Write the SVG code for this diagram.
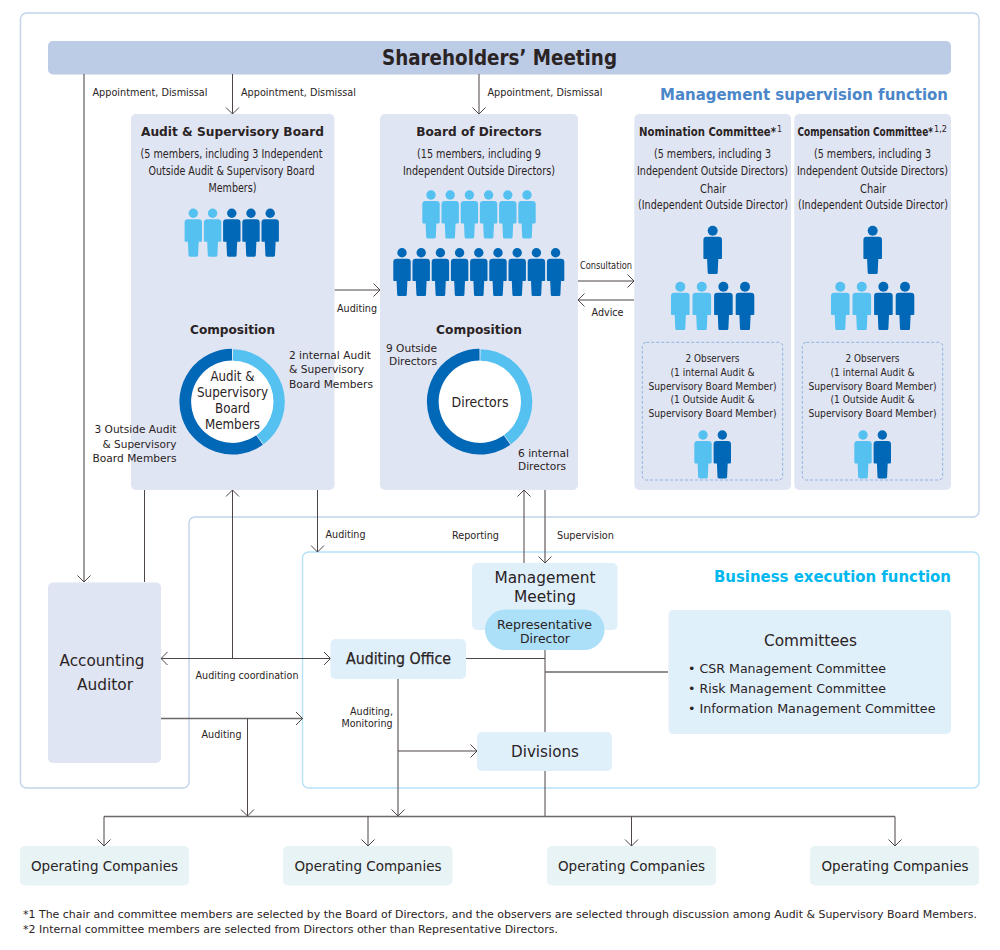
<svg xmlns="http://www.w3.org/2000/svg" xmlns:xlink="http://www.w3.org/1999/xlink" width="1000" height="950" viewBox="0 0 1000 950">
<style>
text{font-family:"DejaVu Sans","Liberation Sans",sans-serif;fill:#2a2324;text-anchor:middle}
.l{text-anchor:start}.r{text-anchor:end}
.b{font-weight:bold}
.s8{font-size:8px}.s10{font-size:10px}.s11{font-size:11px}.s12{font-size:12px}.s13{font-size:13px}.s14{font-size:14px}.s15{font-size:15px}.s16{font-size:16px}
.board{fill:#e0e5f3}.exec{fill:#e0f0fb}.op{fill:#e7f3f4}
.c{fill:none;stroke:#4d4546;stroke-width:1}
.g{stroke:#6e6869;stroke-width:1.3}
.ar{marker-end:url(#a)}
.lt{fill:#55c1f1}.dk{fill:#0068b7}
.obs{fill:none;stroke:#8eb2df;stroke-width:1;stroke-dasharray:3 2}
</style>
<defs>
<marker id="a" markerUnits="userSpaceOnUse" markerWidth="16" markerHeight="16" refX="8" refY="8" orient="auto-start-reverse" overflow="visible"><path d="M1.5 1.5 L8 8 L1.5 14.5" fill="none" stroke="#4d4546" stroke-width="1"/></marker>
<g id="p"><circle cx="0" cy="0" r="4.7"/><path d="M-5.4 6h10.8q3.3 0 3.3 3.3V27.6q0 .8-.8 .8H5.4L4.8 42q0 1.4-1.4 1.4h-6.8q-1.4 0-1.4-1.4L-5.4 28.4H-7.9q-.8 0-.8-.8V9.3q0-3.3 3.3-3.3z"/></g>
<g id="pw"><circle cx="0" cy="0" r="5"/><path d="M-6 6h12q3.3 0 3.3 3.3V27.6q0 .8-.8 .8H5.6L5 42q0 1.4-1.4 1.4h-7.2q-1.4 0-1.4-1.4L-5.6 28.4H-8.5q-.8 0-.8-.8V9.3q0-3.3 3.3-3.3z"/></g>
</defs>
<rect width="1000" height="950" fill="#fff"/>
<g id="frames" fill="none" stroke-width="1.4">
<path d="M26.5 13H973a6 6 0 0 1 6 6V511a6 6 0 0 1-6 6H195a6 6 0 0 0-6 6V782a6 6 0 0 1-6 6H26.5a6 6 0 0 1-6-6V19a6 6 0 0 1 6-6z" stroke="#c3d2ec"/>
<rect x="302.5" y="552" width="676.5" height="236" rx="6" stroke="#b5e2f8"/>
</g>
<g id="shareholders"><rect x="48" y="41" width="903" height="33.500" rx="5" fill="#bccbe6"/><text x="499.500" y="65" class="b" font-size="21" textLength="235" lengthAdjust="spacingAndGlyphs">Shareholders’ Meeting</text></g>
<text id="title-supervision" x="804" y="100" class="b s16" style="fill:#4a86c8" textLength="288" lengthAdjust="spacingAndGlyphs">Management supervision function</text>
<g id="connectors">
<path class="c g ar" d="M84 74V582"/>
<path class="c ar" d="M232.500 74V114"/>
<path class="c ar" d="M479 74V114"/>
<path class="c ar" d="M334.500 290H380"/>
<path class="c ar" d="M578 281H634"/>
<path class="c ar" d="M634 300H578"/>
<path class="c" d="M144.500 490V582"/>
<path class="c ar" d="M232.500 658.500V490"/>
<path class="c ar" d="M161 658.500H330.500" style="marker-start:url(#a)"/>
<path class="c ar" d="M317.500 490V552"/>
<path class="c ar" d="M524 563V490"/>
<path class="c g ar" d="M545 490V563"/>
<path class="c g ar" d="M161 718.500H302.500"/>
<path class="c ar" d="M247.500 718.500V816"/>
<path class="c g ar" d="M398 679V816"/>
<path class="c ar" d="M398 751H477"/>
<path class="c" d="M466 658.500H545"/>
<path class="c" d="M545 650V732"/>
<path class="c g" d="M545 672H668"/>
<path class="c" d="M545 771V816.500"/>
<path class="c g" d="M104 816.500H895"/>
<path class="c ar" d="M104 816.500V846"/>
<path class="c ar" d="M368 816.500V846"/>
<path class="c ar" d="M631.500 816.500V846"/>
<path class="c ar" d="M895 816.500V846"/>
</g>
<g id="labels" class="s10">
<text x="150" y="96" textLength="115" lengthAdjust="spacingAndGlyphs">Appointment, Dismissal</text>
<text x="298.500" y="96" textLength="115" lengthAdjust="spacingAndGlyphs">Appointment, Dismissal</text>
<text x="545" y="96" textLength="115" lengthAdjust="spacingAndGlyphs">Appointment, Dismissal</text>
<text x="606" y="269" textLength="52" lengthAdjust="spacingAndGlyphs">Consultation</text>
<text x="607.500" y="316" textLength="32" lengthAdjust="spacingAndGlyphs">Advice</text>
<text x="357" y="312" textLength="40" lengthAdjust="spacingAndGlyphs">Auditing</text>
<text x="345.500" y="538" textLength="40" lengthAdjust="spacingAndGlyphs">Auditing</text>
<text x="475.500" y="539" textLength="47" lengthAdjust="spacingAndGlyphs">Reporting</text>
<text x="585.500" y="539" textLength="57" lengthAdjust="spacingAndGlyphs">Supervision</text>
<text x="247" y="679" textLength="103" lengthAdjust="spacingAndGlyphs">Auditing coordination</text>
<text x="221.500" y="738" textLength="40" lengthAdjust="spacingAndGlyphs">Auditing</text>
<text x="393" y="715" class="r" textLength="43" lengthAdjust="spacingAndGlyphs">Auditing,</text>
<text x="392.500" y="727" class="r" textLength="51" lengthAdjust="spacingAndGlyphs">Monitoring</text>
</g>
<g id="audit-board">
<rect class="board" x="131" y="114" width="203.500" height="376" rx="5"/>
<text x="232.500" y="136" class="b s13" textLength="183" lengthAdjust="spacingAndGlyphs">Audit &amp; Supervisory Board</text>
<g class="s12">
<text x="231.500" y="158" textLength="182" lengthAdjust="spacingAndGlyphs">(5 members, including 3 Independent</text>
<text x="231.500" y="175" textLength="166" lengthAdjust="spacingAndGlyphs">Outside Audit &amp; Supervisory Board</text>
<text x="232.500" y="192" textLength="48" lengthAdjust="spacingAndGlyphs">Members)</text>
</g>
<use xlink:href="#p" href="#p" class="lt" x="193.300" y="213.300"/><use href="#p" class="lt" x="212.600" y="213.300"/><use href="#p" class="dk" x="231.800" y="213.300"/><use href="#p" class="dk" x="251" y="213.300"/><use href="#p" class="dk" x="270.200" y="213.300"/>
<text x="232.500" y="334" class="b s13" textLength="85" lengthAdjust="spacingAndGlyphs">Composition</text>
<path d="M233 355A47 47 0 0 1 260.100 439.600" fill="none" stroke="#55c1f1" stroke-width="11.700"/>
<path d="M259.500 440A47 47 0 1 1 232 354.700" fill="none" stroke="#0068b7" stroke-width="11.700"/>
<circle cx="232.500" cy="401.700" r="41" fill="#fff"/>
<g class="s14">
<text x="232.500" y="381" textLength="44" lengthAdjust="spacingAndGlyphs">Audit &amp;</text>
<text x="232.500" y="397" textLength="71" lengthAdjust="spacingAndGlyphs">Supervisory</text>
<text x="232.500" y="413" textLength="35" lengthAdjust="spacingAndGlyphs">Board</text>
<text x="232.500" y="429" textLength="55" lengthAdjust="spacingAndGlyphs">Members</text>
</g>
<g class="s11">
<text x="289" y="359" class="l" textLength="82" lengthAdjust="spacingAndGlyphs">2 internal Audit</text>
<text x="289" y="373" class="l" textLength="75" lengthAdjust="spacingAndGlyphs">&amp; Supervisory</text>
<text x="289" y="388" class="l" textLength="84" lengthAdjust="spacingAndGlyphs">Board Members</text>
<text x="176.500" y="433" class="r" textLength="82" lengthAdjust="spacingAndGlyphs">3 Outside Audit</text>
<text x="176.500" y="448" class="r" textLength="74" lengthAdjust="spacingAndGlyphs">&amp; Supervisory</text>
<text x="176.500" y="462" class="r" textLength="84" lengthAdjust="spacingAndGlyphs">Board Members</text>
</g>
</g>
<g id="board-of-directors">
<rect class="board" x="380" y="114" width="198" height="376" rx="5"/>
<text x="479" y="136" class="b s13" textLength="125.500" lengthAdjust="spacingAndGlyphs">Board of Directors</text>
<g class="s12">
<text x="479" y="158" textLength="124" lengthAdjust="spacingAndGlyphs">(15 members, including 9</text>
<text x="479" y="175" textLength="152" lengthAdjust="spacingAndGlyphs">Independent Outside Directors)</text>
</g>
<use href="#p" class="lt" x="431" y="195"/><use href="#p" class="lt" x="450.200" y="195"/><use href="#p" class="lt" x="469.400" y="195"/><use href="#p" class="lt" x="488.600" y="195"/><use href="#p" class="lt" x="507.800" y="195"/><use href="#p" class="lt" x="527" y="195"/>
<use href="#p" class="dk" x="402" y="252.700"/><use href="#p" class="dk" x="421.200" y="252.700"/><use href="#p" class="dk" x="440.400" y="252.700"/><use href="#p" class="dk" x="459.600" y="252.700"/><use href="#p" class="dk" x="478.800" y="252.700"/><use href="#p" class="dk" x="498" y="252.700"/><use href="#p" class="dk" x="517.200" y="252.700"/><use href="#p" class="dk" x="536.400" y="252.700"/><use href="#p" class="dk" x="555.600" y="252.700"/>
<text x="479" y="334" class="b s13" textLength="86" lengthAdjust="spacingAndGlyphs">Composition</text>
<path d="M480.500 355A47 47 0 0 1 507.600 439.600" fill="none" stroke="#55c1f1" stroke-width="11.700"/>
<path d="M507 440A47 47 0 1 1 479.500 354.700" fill="none" stroke="#0068b7" stroke-width="11.700"/>
<circle cx="480" cy="401.700" r="41" fill="#fff"/>
<text x="480" y="407" class="s14" textLength="57" lengthAdjust="spacingAndGlyphs">Directors</text>
<g class="s11">
<text x="437" y="352" class="r" textLength="51" lengthAdjust="spacingAndGlyphs">9 Outside</text>
<text x="437" y="365" class="r" textLength="48" lengthAdjust="spacingAndGlyphs">Directors</text>
<text x="518" y="457" class="l" textLength="51" lengthAdjust="spacingAndGlyphs">6 internal</text>
<text x="518" y="470" class="l" textLength="48" lengthAdjust="spacingAndGlyphs">Directors</text>
</g>
</g>
<g id="nomination-committee">
<rect class="board" x="634.300" y="114" width="156.700" height="376" rx="5"/>
<text x="639" y="136" class="b s13 l" textLength="137" lengthAdjust="spacingAndGlyphs">Nomination Committee*</text>
<text x="777" y="132" class="s8 l" textLength="5" lengthAdjust="spacingAndGlyphs">1</text>
<g class="s12">
<text x="712.500" y="158" textLength="117" lengthAdjust="spacingAndGlyphs">(5 members, including 3</text>
<text x="712.500" y="175" textLength="151" lengthAdjust="spacingAndGlyphs">Independent Outside Directors)</text>
<text x="713" y="193" textLength="26" lengthAdjust="spacingAndGlyphs">Chair</text>
<text x="713" y="209" textLength="150" lengthAdjust="spacingAndGlyphs">(Independent Outside Director)</text>
</g>
<use href="#pw" class="dk" x="712.700" y="230.700"/>
<use href="#pw" class="lt" x="680.300" y="286.700"/><use href="#pw" class="lt" x="701.800" y="286.700"/><use href="#pw" class="dk" x="723.400" y="286.700"/><use href="#pw" class="dk" x="745" y="286.700"/>
<rect class="obs" x="642.300" y="342.300" width="140.400" height="137.700" rx="4"/>
<g class="s11">
<text x="712.500" y="362" textLength="54" lengthAdjust="spacingAndGlyphs">2 Observers</text>
<text x="712.500" y="376" textLength="84" lengthAdjust="spacingAndGlyphs">(1 internal Audit &amp;</text>
<text x="712.500" y="389.500" textLength="128" lengthAdjust="spacingAndGlyphs">Supervisory Board Member)</text>
<text x="712.500" y="403" textLength="84" lengthAdjust="spacingAndGlyphs">(1 Outside Audit &amp;</text>
<text x="712.500" y="417" textLength="128" lengthAdjust="spacingAndGlyphs">Supervisory Board Member)</text>
</g>
<use href="#p" class="lt" x="703" y="435"/><use href="#p" class="dk" x="722.300" y="435"/>
</g>
<g id="compensation-committee">
<rect class="board" x="794.300" y="114" width="156.700" height="376" rx="5"/>
<text x="797.500" y="136" class="b s13 l" textLength="135.500" lengthAdjust="spacingAndGlyphs">Compensation Committee*</text>
<text x="934" y="132" class="s8 l" textLength="13" lengthAdjust="spacingAndGlyphs">1,2</text>
<g class="s12">
<text x="872.500" y="158" textLength="117" lengthAdjust="spacingAndGlyphs">(5 members, including 3</text>
<text x="872.500" y="175" textLength="151" lengthAdjust="spacingAndGlyphs">Independent Outside Directors)</text>
<text x="873" y="193" textLength="26" lengthAdjust="spacingAndGlyphs">Chair</text>
<text x="873" y="209" textLength="150" lengthAdjust="spacingAndGlyphs">(Independent Outside Director)</text>
</g>
<use href="#pw" class="dk" x="872.700" y="230.700"/>
<use href="#pw" class="lt" x="840.300" y="286.700"/><use href="#pw" class="lt" x="861.800" y="286.700"/><use href="#pw" class="dk" x="883.400" y="286.700"/><use href="#pw" class="dk" x="905" y="286.700"/>
<rect class="obs" x="802.300" y="342.300" width="140.400" height="137.700" rx="4"/>
<g class="s11">
<text x="872.500" y="362" textLength="54" lengthAdjust="spacingAndGlyphs">2 Observers</text>
<text x="872.500" y="376" textLength="84" lengthAdjust="spacingAndGlyphs">(1 internal Audit &amp;</text>
<text x="872.500" y="389.500" textLength="128" lengthAdjust="spacingAndGlyphs">Supervisory Board Member)</text>
<text x="872.500" y="403" textLength="84" lengthAdjust="spacingAndGlyphs">(1 Outside Audit &amp;</text>
<text x="872.500" y="417" textLength="128" lengthAdjust="spacingAndGlyphs">Supervisory Board Member)</text>
</g>
<use href="#p" class="lt" x="863" y="435"/><use href="#p" class="dk" x="882.300" y="435"/>
</g>
<text id="title-execution" x="832.500" y="582" class="b s16" style="fill:#00b8ee" textLength="237" lengthAdjust="spacingAndGlyphs">Business execution function</text>
<g id="accounting-auditor"><rect class="board" x="48" y="582.500" width="113" height="180.500" rx="5"/>
<text x="102" y="666" class="s16" textLength="85" lengthAdjust="spacingAndGlyphs">Accounting</text><text x="105" y="690" class="s16" textLength="56" lengthAdjust="spacingAndGlyphs">Auditor</text></g>
<g id="management-meeting"><rect class="exec" x="472" y="563" width="145.500" height="67" rx="5"/>
<text x="545" y="583" class="s15" textLength="101" lengthAdjust="spacingAndGlyphs">Management</text><text x="545" y="602" class="s15" textLength="62" lengthAdjust="spacingAndGlyphs">Meeting</text></g>
<g id="representative-director"><rect x="485" y="609.500" width="119.500" height="40.500" rx="20.250" fill="#abe0f8"/>
<text x="544.500" y="629" class="s13" textLength="95" lengthAdjust="spacingAndGlyphs">Representative</text><text x="545" y="643" class="s13" textLength="50" lengthAdjust="spacingAndGlyphs">Director</text></g>
<g id="auditing-office"><rect class="exec" x="330.500" y="639" width="135.500" height="40" rx="5"/><text x="398.500" y="663.500" class="s15" stroke="#2a2324" stroke-width=".25" textLength="105" lengthAdjust="spacingAndGlyphs">Auditing Office</text></g>
<g id="divisions"><rect class="exec" x="477" y="732" width="135" height="39" rx="5"/><text x="545" y="757" class="s15" textLength="68" lengthAdjust="spacingAndGlyphs">Divisions</text></g>
<g id="committees"><rect class="exec" x="668.500" y="610" width="282.500" height="124" rx="5"/>
<text x="810.500" y="646" class="s15" textLength="93" lengthAdjust="spacingAndGlyphs">Committees</text>
<g class="s13">
<text x="688" y="673" class="l" textLength="198" lengthAdjust="spacingAndGlyphs">• CSR Management Committee</text>
<text x="688" y="693" class="l" textLength="198" lengthAdjust="spacingAndGlyphs">• Risk Management Committee</text>
<text x="688" y="713" class="l" textLength="247.500" lengthAdjust="spacingAndGlyphs">• Information Management Committee</text>
</g></g>
<g id="operating-1"><rect class="op" x="20" y="846" width="169" height="39.500" rx="5"/><text x="104.500" y="871" class="s14" textLength="147" lengthAdjust="spacingAndGlyphs">Operating Companies</text></g>
<g id="operating-2"><rect class="op" x="283" y="846" width="169.500" height="39.500" rx="5"/><text x="368" y="871" class="s14" textLength="147" lengthAdjust="spacingAndGlyphs">Operating Companies</text></g>
<g id="operating-3"><rect class="op" x="547" y="846" width="169" height="39.500" rx="5"/><text x="631.500" y="871" class="s14" textLength="147" lengthAdjust="spacingAndGlyphs">Operating Companies</text></g>
<g id="operating-4"><rect class="op" x="810" y="846" width="169" height="39.500" rx="5"/><text x="895" y="871" class="s14" textLength="147" lengthAdjust="spacingAndGlyphs">Operating Companies</text></g>
<g id="footnotes" class="s11">
<text x="23" y="918" class="l" textLength="954" lengthAdjust="spacingAndGlyphs">*1 The chair and committee members are selected by the Board of Directors, and the observers are selected through discussion among Audit &amp; Supervisory Board Members.</text>
<text x="23" y="933" class="l" textLength="535" lengthAdjust="spacingAndGlyphs">*2 Internal committee members are selected from Directors other than Representative Directors.</text>
</g>
</svg>
